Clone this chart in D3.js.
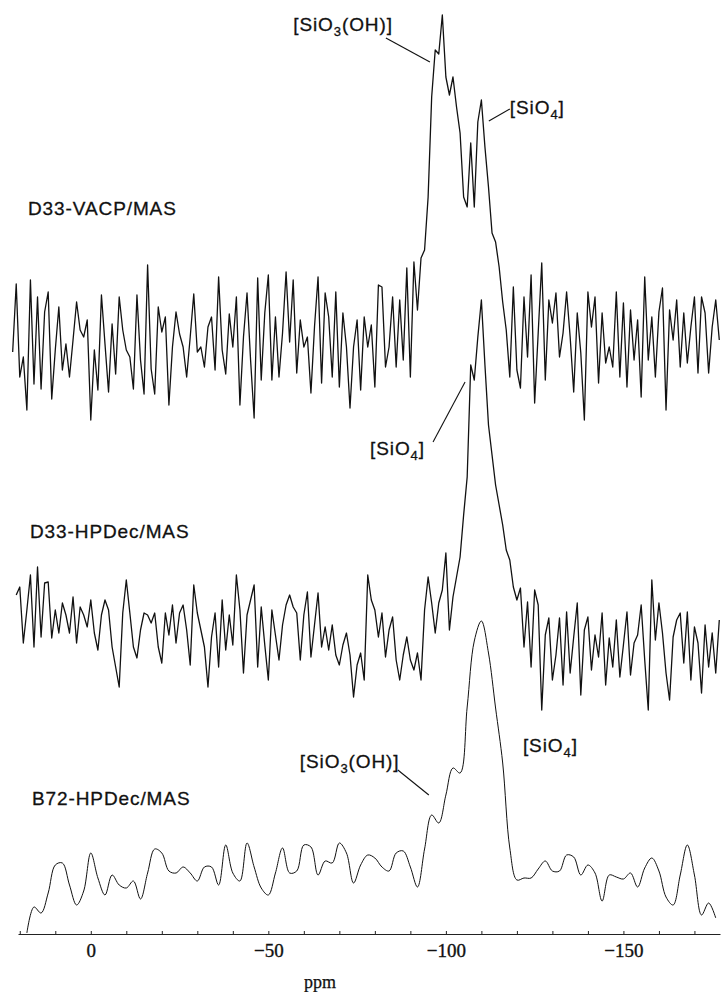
<!DOCTYPE html>
<html>
<head>
<meta charset="utf-8">
<script src="https://cdn.jsdelivr.net/npm/d3@7"></script>
<style>
  html, body { margin: 0; padding: 0; background: #fff; }
  svg { display: block; }
</style>
</head>
<body>
<div id="chart-container"></div>
<script>
// D33-VACP/MAS spectrum, one value per ppm starting at +22 ppm (arbitrary intensity)
const vacpStart = 22;
const vacpD33 = [
  -5, 63, -30, -10, -63, 67, -37, 50, -42, 35,
  55, -52, -3, 40, -23, 3, -30, 7, 45, 17,
  10, 27, -73, -3, -43, 52, 3, -45, 23, -27,
  50, 17, -3, -10, -42, 52, -13, -47, 82, -22,
  -47, 40, 15, 30, -58, 0, 35, 13, 0, -30,
  10, 53, -5, 0, -20, 20, 30, -23, 70, -3,
  -27, 33, 0, 50, -58, 10, 54, -13, -71, 69,
  -33, 34, 72, -33, 30, -30, 14, 75, 5, 67,
  -26, 27, 0, 10, -46, 20, 70, -36, 54, 30,
  -30, 55, -40, 34, 0, -61, 0, 27, -43, 30,
  0, 22, -40, 62, 60, -20, 0, 50, -20, 47,
  -13, 79, -30, 85, 37, 89, 97, 150, 250, 297,
  293, 332, 270, 252, 270, 240, 214, 150, 140, 204,
  140, 225, 247, 200, 160, 114, 105, 80, 45, 17,
  -30, 60, -23, -41, 50, -10, 72, -56, 14, 84,
  -33, 47, 24, 54, -10, 14, 55, 10, -45, 34,
  -6, -73, 55, 20, 50, -36, 34, -16, 0, -20,
  55, -30, 44, -40, 37, -13, 27, -50, 70, -13,
  30, -30, 35, 59, -63, 37, 7, 47, -20, 34,
  -16, 20, 50, -26, 50, 34, -26, 20, 47, 7
];

// D33-HPDec/MAS spectrum, one value per ppm starting at +21 ppm
const hpdecStart = 21;
const hpdecD33 = [
  20, 28, -28, 5, 40, -32, 48, -22, 32, 33,
  -23, 5, -18, 12, 0, -18, 18, -28, 8, 0,
  -12, 15, -18, -35, 0, 15, 5, -32, -52, -72,
  2, 35, 2, -32, -43, -15, 2, 0, -8, 2,
  -32, -48, 2, -20, 10, -28, 2, 10, -15, -50,
  30, 2, -15, -32, -72, -22, 2, -52, 15, -35,
  0, -30, 40, 5, -58, 0, 15, 30, -52, 8,
  -30, -65, 5, -20, -45, -10, 10, 20, 8, 2,
  -45, 0, 23, -42, -10, 22, -32, -12, -35, -10,
  -40, -50, -30, -18, -40, -82, -50, -38, -65, 40,
  15, 5, -22, 2, -42, -15, -2, -45, -65, -40,
  -22, -45, -55, -38, -65, 5, 38, 12, -18, 12,
  25, 62, -15, 18, 38, 58, 100, 138, 250, 235,
  278, 315, 250, 190, 160, 130, 110, 90, 65, 55,
  28, 15, 27, -32, 13, -52, 25, 10, -95, -20,
  -3, -65, -40, -3, -70, 3, -58, -22, 12, -80,
  -15, -2, -55, -20, -42, 2, -70, -23, -52, -5,
  -62, -30, 3, -60, -28, -20, 10, -45, -95, 35,
  -25, 12, -18, -58, -85, -22, -5, 2, -48, 3,
  -65, -12, -28, -78, -10, -52, -18, -58, -5
];

// B72-HPDec/MAS spectrum, one value every 2 ppm starting at +18 ppm
const b72Start = 18;
const b72Step = 2;
const hpdecB72 = [
  0, 26, 20, 40, 68, 70, 48, 28, 42, 80,
  55, 38, 58, 48, 45, 52, 34, 60, 84, 80,
  62, 60, 66, 60, 52, 66, 66, 48, 88, 60,
  52, 90, 66, 45, 38, 60, 85, 60, 62, 88,
  86, 58, 72, 70, 90, 80, 50, 68, 78, 75,
  66, 62, 80, 82, 66, 46, 84, 118, 110, 138,
  165, 160, 226, 292, 312, 280, 225, 170, 85, 53,
  55, 55, 64, 72, 62, 62, 78, 76, 58, 68,
  60, 32, 58, 56, 54, 60, 46, 65, 75, 62,
  36, 28, 58, 88, 58, 18, 30, 15
];

const sampleNames = ['D33-VACP/MAS', 'D33-HPDec/MAS', 'B72-HPDec/MAS'];
const tickLabels = [0, -50, -100, -150];
const minorTicks = d3.range(20, -171, -10);

const width = 723;
const height = 992;

const svg = d3.select('#chart-container').append('svg')
    .attr('width', width)
    .attr('height', height)
    .style('background', '#fff');

// ppm axis runs right to left
const x = d3.scaleLinear().domain([20.5, -177.2]).range([18, 720]);

// each spectrum gets its own vertical band
const yTop = d3.scaleLinear().domain([0, 332]).range([347, 15]);
const yMid = d3.scaleLinear().domain([0, 315]).range([615, 300]);
const yBot = d3.scaleLinear().domain([0, 313]).range([933, 620]);

function toPoints(values, start, step) {
    return values.map((v, i) => ({ ppm: start - i * step, v: v }));
}

function drawTrace(points, y, curve, sw) {
    const line = d3.line()
        .x(d => x(d.ppm))
        .y(d => y(d.v))
        .curve(curve);
    svg.append('path')
        .datum(points)
        .attr('d', line)
        .attr('fill', 'none')
        .attr('stroke', '#111')
        .attr('stroke-width', sw)
        .attr('stroke-linejoin', 'round');
}

drawTrace(toPoints(vacpD33, vacpStart, 1), yTop, d3.curveLinear, 1.3);
drawTrace(toPoints(hpdecD33, hpdecStart, 1), yMid, d3.curveLinear, 1.3);
drawTrace(toPoints(hpdecB72, b72Start, b72Step), yBot, d3.curveCatmullRom.alpha(0.5), 1);

// axis line with small upward ticks every 10 ppm
const axisY = 934;
svg.append('g')
    .attr('transform', `translate(0,${axisY})`)
    .call(d3.axisTop(x).tickValues(minorTicks).tickSize(3).tickSizeOuter(0).tickFormat(''))
    .call(g => g.select('.domain').attr('stroke', '#222').attr('stroke-width', 1.2))
    .call(g => g.selectAll('.tick line').attr('stroke', '#222'));

const serif = '"Liberation Serif", "Times New Roman", serif';

svg.append('g')
    .attr('transform', `translate(0,${axisY})`)
    .call(d3.axisBottom(x).tickValues(tickLabels).tickSize(0).tickPadding(10)
        .tickFormat(d => d === 0 ? '0' : '\u2212' + Math.abs(d)))
    .call(g => g.select('.domain').remove())
    .call(g => g.selectAll('.tick text')
        .attr('font-family', serif)
        .attr('font-size', 19)
        .attr('fill', '#111')
        .attr('stroke', '#111')
        .attr('stroke-width', 0.35));

svg.append('text')
    .attr('x', 320)
    .attr('y', 988)
    .attr('text-anchor', 'middle')
    .attr('font-family', serif)
    .attr('font-size', 18)
    .attr('fill', '#111')
    .attr('stroke', '#111')
    .attr('stroke-width', 0.25)
    .text('ppm');

// sample names
const nameY = [215, 538, 805];
const nameX = [28, 30, 32];
sampleNames.forEach((n, i) => {
    svg.append('text')
        .attr('x', nameX[i])
        .attr('y', nameY[i])
        .attr('font-family', '"Liberation Sans", Arial, sans-serif')
        .attr('font-size', 19)
        .attr('letter-spacing', 0.9)
        .attr('fill', '#111')
        .attr('stroke', '#111')
        .attr('stroke-width', 0.3)
        .text(n);
});

// peak assignments: tip sits on the trace (ppm, value), label and leader offsets in px
const annotations = [
    { y: yTop, ppm: -95.5, v: 285, sub: '3', tail: '(OH)]', lx: -37, ly: -31, anchor: 'end', leader: [-44, -24] },
    { y: yTop, ppm: -112.1, v: 226, sub: '4', tail: ']', lx: 21, ly: -7, anchor: 'start', leader: [21, -12] },
    { y: yMid, ppm: -105.4, v: 233, sub: '4', tail: ']', lx: -95, ly: 73, anchor: 'start', leader: [-32, 60] },
    { y: yBot, ppm: -95.2, v: 138, sub: '3', tail: '(OH)]', lx: -129, ly: -27, anchor: 'start', leader: [-31, -25] },
    { y: yBot, ppm: -121.7, v: 181, sub: '4', tail: ']', lx: 0, ly: 0, anchor: 'start', leader: null }
];

annotations.forEach(a => {
    const tx = x(a.ppm);
    const ty = a.y(a.v);
    if (a.leader) {
        svg.append('line')
            .attr('x1', tx).attr('y1', ty)
            .attr('x2', tx + a.leader[0]).attr('y2', ty + a.leader[1])
            .attr('stroke', '#111')
            .attr('stroke-width', 1.1);
    }
    const t = svg.append('text')
        .attr('x', tx + a.lx)
        .attr('y', ty + a.ly)
        .attr('text-anchor', a.anchor)
        .attr('font-family', '"Liberation Sans", Arial, sans-serif')
        .attr('font-size', 19)
        .attr('letter-spacing', 0.9)
        .attr('fill', '#111')
        .attr('stroke', '#111')
        .attr('stroke-width', 0.3);
    t.append('tspan').text('[SiO');
    t.append('tspan').attr('dy', 5).attr('font-size', 13).text(a.sub);
    t.append('tspan').attr('dy', -5).text(a.tail);
});
</script>
</body>
</html>
